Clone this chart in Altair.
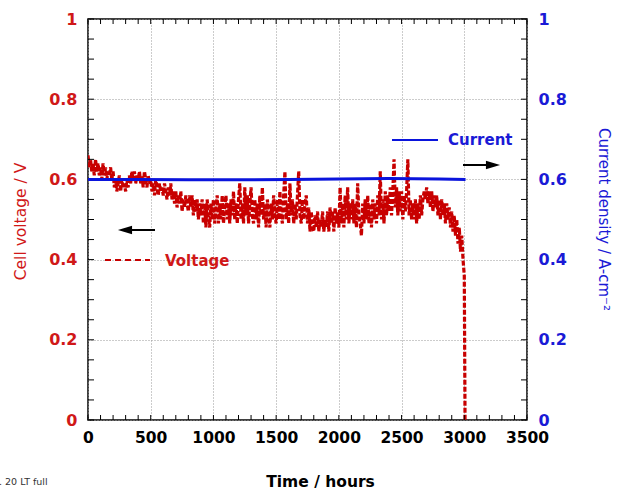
import altair as alt
import pandas as pd

# ---- data -------------------------------------------------------------
# cell voltage (V), one reading every 10 h, one row per 100 h
volt_rows = [
    [0.66, 0.63, 0.65, 0.62, 0.64, 0.61, 0.65, 0.62, 0.64, 0.61],  # 0-90 h
    [0.63, 0.60, 0.64, 0.61, 0.63, 0.60, 0.62, 0.61, 0.63, 0.60],  # 100-190 h
    [0.62, 0.58, 0.60, 0.57, 0.59, 0.61, 0.57, 0.60, 0.58, 0.59],  # 200-290 h
    [0.57, 0.60, 0.58, 0.61, 0.59, 0.62, 0.60, 0.62, 0.59, 0.61],  # 300-390 h
    [0.60, 0.62, 0.59, 0.61, 0.58, 0.62, 0.60, 0.58, 0.61, 0.59],  # 400-490 h
    [0.60, 0.57, 0.59, 0.56, 0.60, 0.58, 0.56, 0.59, 0.57, 0.58],  # 500-590 h
    [0.56, 0.59, 0.57, 0.55, 0.58, 0.56, 0.59, 0.55, 0.57, 0.54],  # 600-690 h
    [0.57, 0.53, 0.56, 0.54, 0.57, 0.52, 0.55, 0.53, 0.56, 0.54],  # 700-790 h
    [0.52, 0.56, 0.53, 0.56, 0.51, 0.55, 0.52, 0.55, 0.50, 0.54],  # 800-890 h
    [0.51, 0.55, 0.49, 0.54, 0.48, 0.55, 0.51, 0.48, 0.54, 0.50],  # 900-990 h
    [0.55, 0.49, 0.53, 0.56, 0.49, 0.54, 0.50, 0.56, 0.49, 0.53],  # 1000-1090 h
    [0.56, 0.50, 0.54, 0.49, 0.55, 0.51, 0.57, 0.50, 0.54, 0.49],  # 1100-1190 h
    [0.55, 0.59, 0.50, 0.54, 0.49, 0.58, 0.51, 0.56, 0.49, 0.54],  # 1200-1290 h
    [0.58, 0.51, 0.49, 0.55, 0.50, 0.54, 0.48, 0.56, 0.51, 0.58],  # 1300-1390 h
    [0.50, 0.54, 0.48, 0.55, 0.51, 0.48, 0.54, 0.50, 0.56, 0.51],  # 1400-1490 h
    [0.49, 0.55, 0.50, 0.57, 0.51, 0.49, 0.56, 0.62, 0.50, 0.54],  # 1500-1590 h
    [0.49, 0.59, 0.51, 0.55, 0.49, 0.54, 0.50, 0.56, 0.62, 0.51],  # 1600-1690 h
    [0.49, 0.55, 0.50, 0.54, 0.56, 0.49, 0.53, 0.47, 0.52, 0.48],  # 1700-1790 h
    [0.47, 0.51, 0.48, 0.52, 0.47, 0.50, 0.48, 0.52, 0.47, 0.50],  # 1800-1890 h
    [0.48, 0.52, 0.47, 0.53, 0.49, 0.52, 0.47, 0.53, 0.49, 0.52],  # 1900-1990 h
    [0.48, 0.58, 0.49, 0.54, 0.48, 0.56, 0.50, 0.58, 0.49, 0.54],  # 2000-2090 h
    [0.50, 0.55, 0.49, 0.54, 0.48, 0.59, 0.51, 0.49, 0.46, 0.54],  # 2100-2190 h
    [0.49, 0.55, 0.50, 0.56, 0.49, 0.54, 0.48, 0.55, 0.50, 0.54],  # 2200-2290 h
    [0.49, 0.56, 0.51, 0.62, 0.50, 0.55, 0.49, 0.57, 0.51, 0.56],  # 2300-2390 h
    [0.52, 0.58, 0.51, 0.57, 0.65, 0.53, 0.58, 0.51, 0.57, 0.52],  # 2400-2490 h
    [0.57, 0.50, 0.56, 0.52, 0.57, 0.65, 0.51, 0.55, 0.50, 0.54],  # 2500-2590 h
    [0.50, 0.55, 0.49, 0.54, 0.50, 0.56, 0.51, 0.55, 0.57, 0.55],  # 2600-2690 h
    [0.58, 0.54, 0.57, 0.53, 0.57, 0.52, 0.56, 0.53, 0.56, 0.51],  # 2700-2790 h
    [0.55, 0.50, 0.55, 0.51, 0.54, 0.49, 0.54, 0.50, 0.53, 0.48],  # 2800-2890 h
    [0.52, 0.47, 0.51, 0.46, 0.50, 0.44, 0.48, 0.42, 0.46, 0.40],  # 2900-2990 h
]
volt_end_hours = [3000, 3006]
volt_end = [0.36, 0.0]

voltage = [v for row in volt_rows for v in row] + volt_end
volt_hours = [10 * i for i in range(10 * len(volt_rows))] + volt_end_hours

# current density (A cm-2)
curr_hours = [0, 400, 800, 1200, 1600, 2000, 2400, 2800, 3010]
current = [0.600, 0.600, 0.599, 0.599, 0.600, 0.601, 0.602, 0.601, 0.600]

# axis values
x_major = [0, 500, 1000, 1500, 2000, 2500, 3000, 3500]
y_major = [0, 0.2, 0.4, 0.6, 0.8, 1]
x_minor = [100 * i for i in range(36)]
y_minor = [round(0.05 * i, 2) for i in range(21)]

# ---- styling ----------------------------------------------------------
W, H = 439, 401
FONT = "DejaVu Sans"
RED_TXT = "#d01818"
RED_LINE = "#c80000"
BLUE_TXT = "#1a1ad6"
BLUE_LINE = "#0a14dc"
GRID = dict(grid=True, gridDash=[1, 2], gridColor="#999999", gridWidth=1)

vdf = pd.DataFrame({"t": volt_hours, "v": voltage})
cdf = pd.DataFrame({"t": curr_hours, "c": current})
one = pd.DataFrame({"k": [0]})
xminor_df = pd.DataFrame({"t": x_minor})
yminor_df = pd.DataFrame({"v": y_minor})
yminor_r_df = pd.DataFrame({"c": y_minor})

x_scale = alt.Scale(domain=[0, 3500], nice=False, zero=False)
y_scale = alt.Scale(domain=[0, 1], nice=False, zero=False)

x_axis = alt.Axis(
    values=x_major, format="d", title="Time / hours",
    labelFont=FONT, labelFontSize=15.5, labelFontWeight="bold", labelColor="black",
    labelPadding=10, labelFlush=False, labelOverlap=False,
    ticks=False, domain=False,
    titleFont=FONT, titleFontSize=15.5, titleFontWeight="bold", titleColor="black",
    titleX=232, titleY=61, titleAlign="center", titleBaseline="middle",
    **GRID,
)
left_axis = alt.Axis(
    values=y_major, format="~g", orient="left", title="Cell voltage / V",
    labelFont=FONT, labelFontSize=16, labelFontWeight="bold", labelColor=RED_TXT,
    labelPadding=11, labelFlush=False, labelOverlap=False,
    ticks=False, domain=False,
    titleFont=FONT, titleFontSize=15.5, titleFontWeight="normal", titleColor=RED_TXT,
    titleAngle=-90, titleX=-68, titleY=202, titleAlign="center", titleBaseline="middle",
    **GRID,
)
right_axis = alt.Axis(
    values=y_major, format="~g", orient="right", title="Current density /  A-cm⁻²",
    labelFont=FONT, labelFontSize=16, labelFontWeight="bold", labelColor=BLUE_TXT,
    labelPadding=11, labelFlush=False, labelOverlap=False,
    ticks=False, domain=False, grid=False,
    titleFont=FONT, titleFontSize=15, titleFontWeight="normal", titleColor=BLUE_TXT,
    titleAngle=90, titleX=76, titleY=200, titleAlign="center", titleBaseline="middle",
)

X = lambda: alt.X("t:Q", scale=x_scale, axis=x_axis)
YL = lambda: alt.Y("v:Q", scale=y_scale, axis=left_axis)
YR = lambda: alt.Y("c:Q", scale=y_scale, axis=right_axis)

# ---- voltage side -------------------------------------------------------
volt_line = alt.Chart(vdf).mark_line(
    color=RED_LINE, strokeWidth=3.2, strokeDash=[5, 2], clip=True
).encode(x=X(), y=YL())

left_ticks = alt.Chart(yminor_df).mark_rule(color="black", strokeWidth=1).encode(
    y=YL(), x=alt.value(0), x2=alt.value(6)
)
bottom_ticks = alt.Chart(xminor_df).mark_rule(color="black", strokeWidth=1).encode(
    x=X(), y=alt.value(H - 5), y2=alt.value(H)
)
top_ticks = alt.Chart(xminor_df).mark_rule(color="black", strokeWidth=1).encode(
    x=X(), y=alt.value(0), y2=alt.value(5)
)

volt_key = alt.Chart(one).mark_rule(color=RED_LINE, strokeWidth=2, strokeDash=[6, 4]).encode(
    x=alt.value(17), x2=alt.value(62), y=alt.value(241)
)
volt_label = alt.Chart(one).mark_text(
    text="Voltage", font=FONT, fontSize=15, fontWeight="bold", color=RED_TXT,
    align="left", baseline="middle"
).encode(x=alt.value(77), y=alt.value(242))

left_shaft = alt.Chart(one).mark_rule(color="black", strokeWidth=2).encode(
    x=alt.value(42), x2=alt.value(67), y=alt.value(211)
)
left_head = alt.Chart(one).mark_point(
    shape="M -1 0 L 1 -0.6 L 1 0.6 Z", filled=True, color="black", opacity=1, size=200
).encode(x=alt.value(37), y=alt.value(211))

footer = alt.Chart(one).mark_text(
    text=". 20 LT full", font=FONT, fontSize=9.5, color="#333333",
    align="left", baseline="middle"
).encode(x=alt.value(-89), y=alt.value(463))

left_group = alt.layer(
    volt_line, left_ticks, bottom_ticks, top_ticks,
    volt_key, volt_label, left_shaft, left_head, footer,
)

# ---- current side -------------------------------------------------------
curr_line = alt.Chart(cdf).mark_line(color=BLUE_LINE, strokeWidth=3).encode(x=X(), y=YR())
right_ticks = alt.Chart(yminor_r_df).mark_rule(color="black", strokeWidth=1).encode(
    y=YR(), x=alt.value(W - 6), x2=alt.value(W)
)
curr_key = alt.Chart(one).mark_rule(color=BLUE_LINE, strokeWidth=2).encode(
    x=alt.value(304), x2=alt.value(350), y=alt.value(121)
)
curr_label = alt.Chart(one).mark_text(
    text="Current", font=FONT, fontSize=15, fontWeight="bold", color=BLUE_TXT,
    align="left", baseline="middle"
).encode(x=alt.value(360), y=alt.value(121))
right_shaft = alt.Chart(one).mark_rule(color="black", strokeWidth=2).encode(
    x=alt.value(375), x2=alt.value(400), y=alt.value(146)
)
right_head = alt.Chart(one).mark_point(
    shape="M 1 0 L -1 -0.6 L -1 0.6 Z", filled=True, color="black", opacity=1, size=200
).encode(x=alt.value(405), y=alt.value(146))

right_group = alt.layer(curr_line, right_ticks, curr_key, curr_label, right_shaft, right_head)

chart = (
    alt.layer(left_group, right_group)
    .resolve_scale(y="independent")
    .properties(
        width=W, height=H,
        autosize=alt.AutoSizeParams(type="none"),
        padding={"left": 88, "top": 19, "right": 95, "bottom": 70},
        background="white",
    )
    .configure_view(stroke="black", strokeWidth=1.5)
)

chart.save("out.html", embed_options={"renderer": "svg", "actions": False})
